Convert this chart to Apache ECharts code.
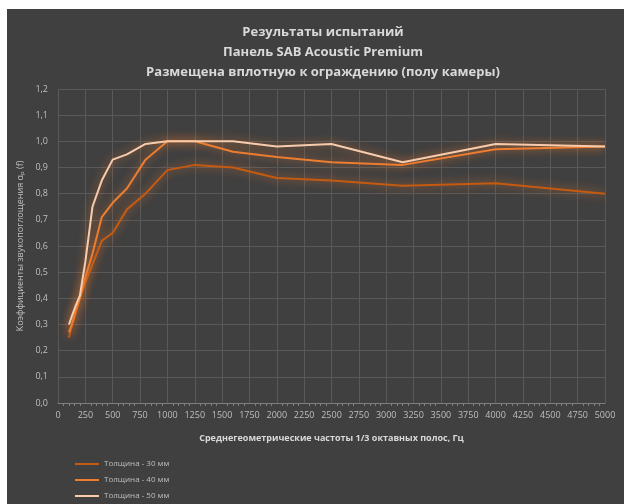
<!DOCTYPE html>
<html>
<head>
<meta charset="utf-8">
<script src="https://cdn.jsdelivr.net/npm/echarts@6/dist/echarts.min.js"></script>
<style>
  html, body { margin: 0; padding: 0; background: #ffffff; }
  #chart { position: absolute; left: 7px; top: 9px; width: 617px; height: 495px; }
</style>
</head>
<body>
<div id="chart"></div>
<script>
"use strict";
// частоты 1/3 октавных полос, Гц
var freqs = [100, 125, 160, 200, 250, 315, 400, 500, 630, 800, 1000, 1250, 1600, 2000, 2500, 3150, 4000, 5000];
var t30 = [0.25, 0.29, 0.34, 0.40, 0.46, 0.53, 0.62, 0.65, 0.74, 0.80, 0.89, 0.91, 0.90, 0.86, 0.85, 0.83, 0.84, 0.80];
var t40 = [0.27, 0.30, 0.35, 0.40, 0.48, 0.57, 0.71, 0.765, 0.82, 0.93, 1.0, 1.0, 0.96, 0.94, 0.92, 0.91, 0.97, 0.98];
var t50 = [0.30, 0.33, 0.37, 0.41, 0.54, 0.75, 0.85, 0.93, 0.95, 0.99, 1.0, 1.0, 1.0, 0.98, 0.99, 0.92, 0.99, 0.98];
var seriesNames = ["Толщина - 30 мм", "Толщина - 40 мм", "Толщина - 50 мм"];
var seriesColors = ["#c55a11", "#ed7d31", "#f8cbad"];
var titleText = "Результаты испытаний\nПанель SAB Acoustic Premium\nРазмещена вплотную к ограждению (полу камеры)";

function pairs(vals) {
    return freqs.map(function (f, i) { return [f, vals[i]]; });
}

var font = "'Open Sans', 'Noto Sans', sans-serif";
var allData = [t30, t40, t50];

var option = {
    backgroundColor: "#404040",
    textStyle: { fontFamily: font },
    title: {
        text: titleText,
        left: 311, top: 8, textAlign: "center",
        textStyle: { color: "#d9d9d9", fontSize: 13, fontWeight: "bold", lineHeight: 20, fontFamily: font }
    },
    legend: {
        orient: "vertical", left: 63, top: 446, height: 120, itemGap: 8,
        itemWidth: 24, itemHeight: 2, icon: "rect",
        textStyle: { color: "#bfbfbf", fontSize: 8, fontFamily: font },
        data: seriesNames
    },
    grid: { left: 51, top: 80, width: 547, height: 314 },
    xAxis: {
        type: "value", min: 0, max: 5000, interval: 250,
        name: "Среднегеометрические частоты 1/3 октавных полос, Гц",
        nameLocation: "middle", nameGap: 31,
        nameTextStyle: { color: "#d9d9d9", fontSize: 9, fontWeight: "bold" },
        axisLine: { lineStyle: { color: "#7f7f7f" } },
        axisTick: { show: false },
        minorTick: { show: true, splitNumber: 5, length: 3, lineStyle: { color: "#7f7f7f" } },
        axisLabel: { color: "#bfbfbf", fontSize: 9, margin: 8, formatter: function (v) { return String(v); } },
        splitLine: { show: true, lineStyle: { color: "#595959" } }
    },
    yAxis: {
        type: "value", min: 0, max: 1.2, interval: 0.1,
        name: "Коэффициенты звукопоглощения αₚ (f)",
        nameLocation: "middle", nameGap: 22,
        nameTextStyle: { color: "#bfbfbf", fontSize: 9 },
        axisLine: { show: false },
        axisTick: { show: false },
        axisLabel: {
            color: "#bfbfbf", fontSize: 9, margin: 10,
            formatter: function (v) { return v.toFixed(1).replace(".", ","); }
        },
        splitLine: { lineStyle: { color: "#595959" } }
    },
    series: seriesNames.map(function (name, i) {
        return {
            name: name, type: "line", data: pairs(allData[i]),
            symbol: "none", smooth: false,
            lineStyle: {
                color: seriesColors[i], width: 2,
                shadowColor: "rgba(237,125,49,0.8)", shadowBlur: 10
            },
            itemStyle: { color: seriesColors[i] }
        };
    })
};

var chart = echarts.init(document.getElementById("chart"));
chart.setOption(option);
</script>
</body>
</html>
